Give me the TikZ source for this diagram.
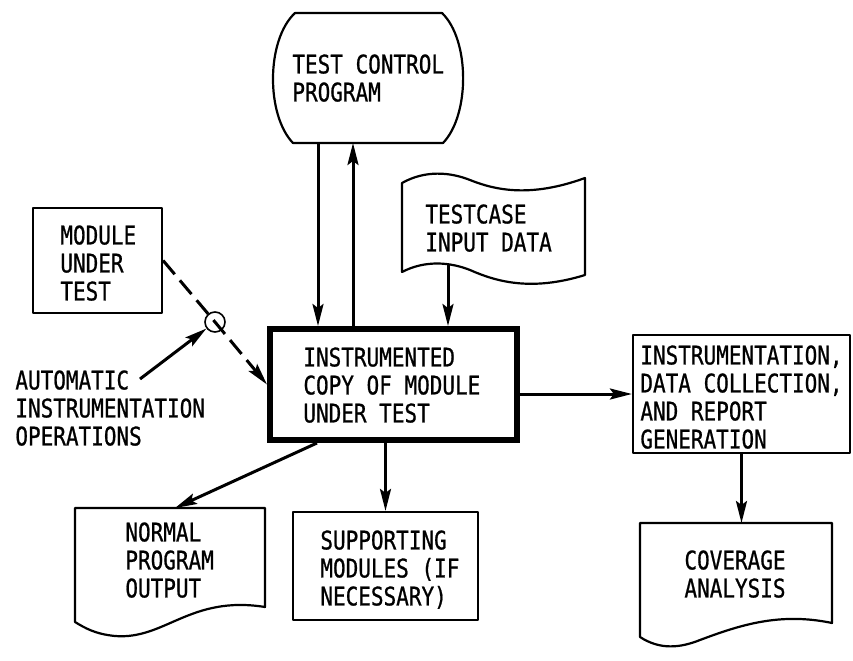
\documentclass[tikz,border=0pt]{standalone}
\usepackage{fontspec}
\newfontfamily\lettering[FakeStretch=0.82,FakeBold=0.8]{DejaVu Sans Mono}
\usetikzlibrary{arrows.meta}
\begin{document}
\begin{tikzpicture}[x=0.5pt,y=-0.5pt,
  lbl/.style={inner sep=0pt, anchor=north west, align=left,
    font=\lettering\fontsize{12.8}{14}\selectfont},
  clbl/.style={lbl, anchor=north, align=center},
  area/.style={inner sep=0pt, outer sep=0pt, minimum width=#1},
  outline/.style={line width=1.1pt, line join=round},
  box/.style={draw, outline, inner sep=0pt},
  heavybox/.style={draw, line width=3pt, inner sep=0pt},
  arr/.style={line width=1.5pt, -{Stealth[length=11pt,width=5.5pt,inset=2pt]}},
  dashline/.style={arr, dash pattern=on 9pt off 4pt}]
\useasboundingbox (0,0) rectangle (853,660);

% ---- test control program (barrel-shaped terminal) ----
\node[area=95pt, minimum height=65pt] (tcp) at (368,78) {};
\draw[outline] (295,13) -- (442,13)
  .. controls (470,40) and (470,115) .. (443,143) -- (293,143)
  .. controls (266,115) and (266,40) .. cycle;
\node[lbl] (tcptext) at (292,54) {TEST CONTROL\\PROGRAM};

% ---- testcase input data (punched tape) ----
\node[area=91.5pt, minimum height=50pt] (tc) at (493.5,228) {};
\draw[outline] (402,183) .. controls (425,170) and (450,172) .. (470,180)
  .. controls (495,190) and (530,198) .. (585,178)
  -- (585,275) .. controls (530,292) and (495,281) .. (470,270)
  .. controls (450,262) and (425,260) .. (402,272) -- cycle;
\node[lbl] (tctext) at (425,204) {TESTCASE\\INPUT DATA};

% ---- module under test ----
\node[box, minimum width=64.5pt, minimum height=52.5pt] (mut) at (97.5,260.5) {};
\node[lbl] (muttext) at (60,225) {MODULE\\UNDER\\TEST};

% ---- instrumentation point ----
\node[circle, draw, line width=0.8pt, minimum size=10pt, inner sep=0pt] (sw) at (215,322) {};

% ---- instrumented copy ----
\node[heavybox, minimum width=123.5pt, minimum height=55.5pt] (main) at (393.5,384.5) {};
\node[lbl] (maintext) at (303,347) {INSTRUMENTED\\COPY OF MODULE\\UNDER TEST};

% ---- automatic instrumentation operations ----
\node[lbl] (auto) at (15,370) {AUTOMATIC\\INSTRUMENTATION\\OPERATIONS};
\coordinate (autotail) at (140,379);

% ---- instrumentation / report generation ----
\node[box, minimum width=108.5pt, minimum height=59pt] (instr) at (741.5,394) {};
\node[lbl] (instrtext) at (640,345) {INSTRUMENTATION,\\DATA COLLECTION,\\AND REPORT\\GENERATION};

% ---- coverage analysis (document) ----
\node[area=96pt, minimum height=57pt] (cov) at (736,580) {};
\draw[outline] (640,523) -- (832,523) -- (832,623)
  .. controls (780,612) and (740,625) .. (700,640)
  .. controls (680,648) and (660,650) .. (640,637) -- cycle;
\node[clbl] (covtext) at (735,550) {COVERAGE\\ANALYSIS};

% ---- normal program output (document) ----
\node[area=95pt, minimum height=57pt] (nout) at (170,565) {};
\draw[outline] (75,508) -- (265,508) -- (265,607)
  .. controls (190,595) and (165,640) .. (115,636)
  .. controls (95,634) and (85,628) .. (75,622) -- cycle;
\node[lbl] (nouttext) at (125,522) {NORMAL\\PROGRAM\\OUTPUT};

% ---- supporting modules ----
\node[box, minimum width=92.5pt, minimum height=54pt] (supp) at (385.5,566) {};
\node[lbl] (supptext) at (320,530) {SUPPORTING\\MODULES (IF\\NECESSARY)};

% ---- connectors ----
\draw[arr] ([xshift=-25pt]tcp.south) -- ([xshift=-25pt]tcp.south |- main.north);
\draw[arr] ([xshift=-7.5pt]tcp.south |- main.north) -- ([xshift=-7.5pt]tcp.south);
\draw[arr] ([xshift=-22.75pt,yshift=6.5pt]tc.south) -- ([xshift=-22.75pt]tc.south |- main.north);
\draw[dashline] (mut.east) -- (sw.center) -- (main.west);
\draw[arr] (autotail) -- (sw);
\draw[arr] (main.east |- instr.west) -- (instr.west);
\draw[arr] (instr.south) -- (instr.south |- cov.north);
\draw[arr] ([xshift=-38.25pt]main.south) -- ([xshift=2.5pt]nout.north);
\draw[arr] (supp.north |- main.south) -- (supp.north);
\end{tikzpicture}
\end{document}
